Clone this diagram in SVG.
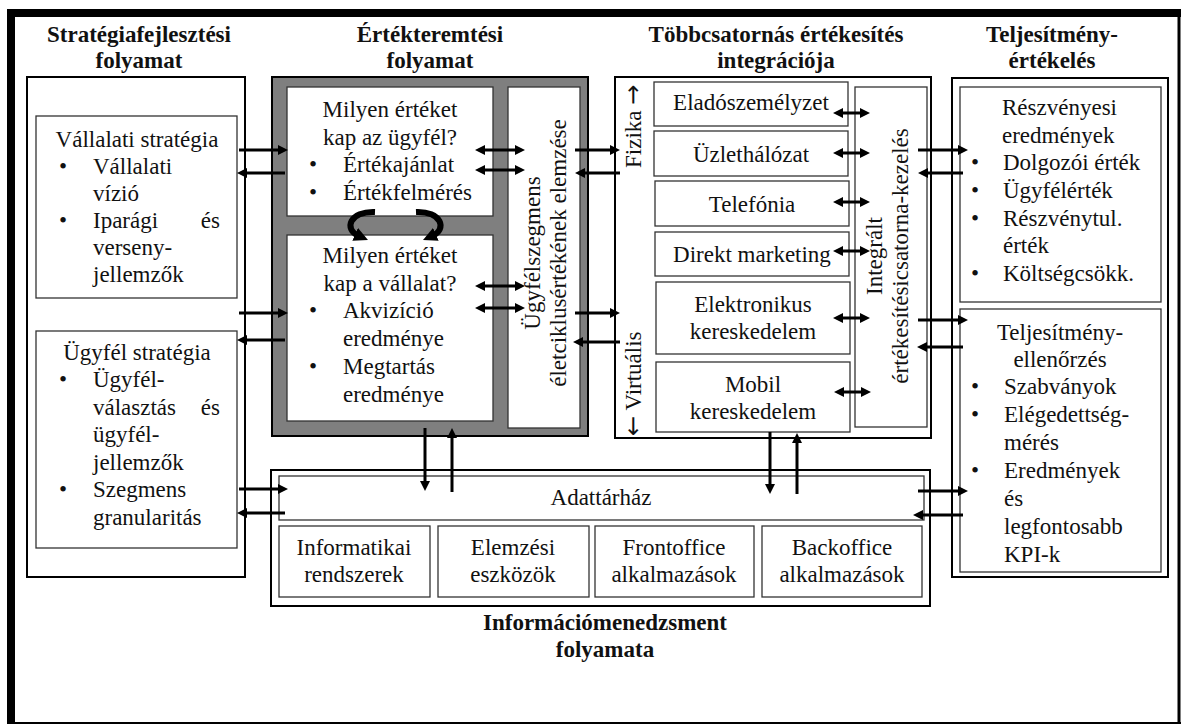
<svg xmlns="http://www.w3.org/2000/svg" width="1181" height="724" viewBox="0 0 1181 724" font-family="'Liberation Serif', serif">
  <defs>
    <style>
      text { font-family: 'Liberation Serif', serif; font-size: 23px; fill: #111; }
      .title { font-weight: bold; text-anchor: middle; }
      .c { text-anchor: middle; }
      .e { text-anchor: end; }
      tspan.glyph { font-family: 'DejaVu Sans', sans-serif; font-size: 24px; }
      .col { fill: #fff; stroke: #000; stroke-width: 2; }
      .box { fill: #fff; stroke: #333; stroke-width: 1.3; }
      .gray { fill: #7f7f7f; stroke: #000; stroke-width: 2; }
      .arr { fill: none; stroke: #000; stroke-width: 3; marker-end: url(#head); }
      .dbl { fill: none; stroke: #000; stroke-width: 3; marker-start: url(#head); marker-end: url(#head); }
      .curl { fill: none; stroke: #000; stroke-width: 6; marker-end: url(#curlhead); }
    </style>
    <marker id="head" viewBox="0 0 10 10" markerWidth="10" markerHeight="10" refX="3" refY="5" orient="auto-start-reverse" markerUnits="userSpaceOnUse">
      <path d="M0,0 L10,5 L0,10 z" fill="#000"/>
    </marker>
    <marker id="curlhead" viewBox="0 0 10 10" markerWidth="14" markerHeight="14" refX="3" refY="5" orient="auto" markerUnits="userSpaceOnUse">
      <path d="M0,0 L10,5 L0,10 z" fill="#000"/>
    </marker>
  </defs>

  <rect width="1181" height="724" fill="#fff"/>

  <!-- page frame: heavy top/left edge, thin right/bottom edge -->
  <g id="frame">
    <rect x="7" y="9" width="1174" height="8" fill="#000"/>
    <rect x="7" y="9" width="8" height="715" fill="#000"/>
    <line x1="1179" y1="9" x2="1179" y2="724" stroke="#000" stroke-width="3"/>
    <line x1="7" y1="723" x2="1181" y2="723" stroke="#000" stroke-width="2"/>
  </g>

  <!-- column 1: strategy development -->
  <g id="strategy">
    <text class="title" x="139" y="42">Stratégiafejlesztési</text>
    <text class="title" x="139" y="68">folyamat</text>
    <rect class="col" x="27" y="77" width="218" height="500"/>
    <g id="corporate-strategy">
      <rect class="box" x="36" y="116" width="201" height="182"/>
      <text class="c" x="137" y="147">Vállalati stratégia</text>
      <text class="c" x="63" y="174">•</text>
      <text x="93" y="174">Vállalati</text>
      <text x="93" y="201">vízió</text>
      <text class="c" x="63" y="228">•</text>
      <text x="93" y="228">Iparági</text>
      <text class="e" x="220" y="228">és</text>
      <text x="93" y="255">verseny-</text>
      <text x="93" y="282">jellemzők</text>
    </g>
    <g id="customer-strategy">
      <rect class="box" x="36" y="331" width="201" height="217"/>
      <text class="c" x="137" y="360">Ügyfél stratégia</text>
      <text class="c" x="63" y="387">•</text>
      <text x="93" y="387">Ügyfél-</text>
      <text x="93" y="415">választás</text>
      <text class="e" x="220" y="415">és</text>
      <text x="93" y="442">ügyfél-</text>
      <text x="93" y="470">jellemzők</text>
      <text class="c" x="63" y="497">•</text>
      <text x="93" y="497">Szegmens</text>
      <text x="93" y="525">granularitás</text>
    </g>
  </g>

  <!-- column 2: value creation -->
  <g id="value-creation">
    <text class="title" x="430" y="42">Értékteremtési</text>
    <text class="title" x="430" y="68">folyamat</text>
    <rect class="gray" x="272" y="77" width="316" height="359"/>
    <g id="customer-value">
      <rect class="box" x="287" y="87" width="206" height="129"/>
      <text class="c" x="390" y="117">Milyen értéket</text>
      <text class="c" x="390" y="145">kap az ügyfél?</text>
      <text class="c" x="313" y="172">•</text>
      <text x="343" y="172">Értékajánlat</text>
      <text class="c" x="313" y="200">•</text>
      <text x="343" y="200">Értékfelmérés</text>
    </g>
    <g id="company-value">
      <rect class="box" x="287" y="235" width="206" height="186"/>
      <text class="c" x="390" y="263">Milyen értéket</text>
      <text class="c" x="390" y="291">kap a vállalat?</text>
      <text class="c" x="313" y="318">•</text>
      <text x="343" y="318">Akvizíció</text>
      <text x="343" y="346">eredménye</text>
      <text class="c" x="313" y="374">•</text>
      <text x="343" y="374">Megtartás</text>
      <text x="343" y="402">eredménye</text>
    </g>
    <g id="segment-analysis">
      <rect class="box" x="508" y="87" width="72" height="341"/>
      <text class="c" transform="translate(540,253) rotate(-90)">Ügyfélszegmens</text>
      <text class="c" transform="translate(566,253) rotate(-90)">életciklusértékének elemzése</text>
    </g>
  </g>

  <!-- column 3: multichannel sales integration -->
  <g id="channels">
    <text class="title" x="776" y="42">Többcsatornás értékesítés</text>
    <text class="title" x="776" y="68">integrációja</text>
    <rect class="col" x="615" y="77" width="316" height="361"/>
    <text transform="translate(641,168) rotate(-90)">Fizika <tspan class="glyph">→</tspan></text>
    <text transform="translate(641,436) rotate(-90)"><tspan class="glyph">←</tspan> Virtuális</text>
    <g id="ch-sales-staff">
      <rect class="box" x="654" y="82" width="194" height="44"/>
      <text class="c" x="751" y="110">Eladószemélyzet</text>
    </g>
    <g id="ch-branches">
      <rect class="box" x="654" y="131" width="194" height="45"/>
      <text class="c" x="751" y="162">Üzlethálózat</text>
    </g>
    <g id="ch-telephony">
      <rect class="box" x="655" y="181" width="194" height="45"/>
      <text class="c" x="752" y="212">Telefónia</text>
    </g>
    <g id="ch-direct-marketing">
      <rect class="box" x="655" y="232" width="194" height="44"/>
      <text class="c" x="752" y="262">Direkt marketing</text>
    </g>
    <g id="ch-ecommerce">
      <rect class="box" x="656" y="282" width="194" height="72"/>
      <text class="c" x="753" y="312">Elektronikus</text>
      <text class="c" x="753" y="339">kereskedelem</text>
    </g>
    <g id="ch-mobile">
      <rect class="box" x="656" y="362" width="194" height="70"/>
      <text class="c" x="753" y="392">Mobil</text>
      <text class="c" x="753" y="419">kereskedelem</text>
    </g>
    <g id="channel-management">
      <rect class="box" x="855" y="87" width="72" height="340"/>
      <text class="c" transform="translate(882,256) rotate(-90)">Integrált</text>
      <text class="c" transform="translate(908,256) rotate(-90)">értékesítésicsatorna-kezelés</text>
    </g>
  </g>

  <!-- column 4: performance evaluation -->
  <g id="performance">
    <text class="title" x="1052" y="42">Teljesítmény-</text>
    <text class="title" x="1052" y="68">értékelés</text>
    <rect class="col" x="952" y="78" width="216" height="499" stroke-width="2.5"/>
    <g id="shareholder-results">
      <rect class="box" x="960" y="87" width="201" height="215"/>
      <text x="1002" y="115">Részvényesi</text>
      <text x="1002" y="143">eredmények</text>
      <text class="c" x="975" y="170">•</text>
      <text x="1003" y="170">Dolgozói érték</text>
      <text class="c" x="975" y="198">•</text>
      <text x="1003" y="198">Ügyfélérték</text>
      <text class="c" x="975" y="226">•</text>
      <text x="1003" y="226">Részvénytul.</text>
      <text x="1003" y="253">érték</text>
      <text class="c" x="975" y="281">•</text>
      <text x="1003" y="281">Költségcsökk.</text>
    </g>
    <g id="performance-control">
      <rect class="box" x="960" y="309" width="201" height="263"/>
      <text class="c" x="1060" y="340">Teljesítmény-</text>
      <text class="c" x="1060" y="367">ellenőrzés</text>
      <text class="c" x="975" y="394">•</text>
      <text x="1004" y="394">Szabványok</text>
      <text class="c" x="975" y="422">•</text>
      <text x="1004" y="422">Elégedettség-</text>
      <text x="1004" y="450">mérés</text>
      <text class="c" x="975" y="478">•</text>
      <text x="1004" y="478">Eredmények</text>
      <text x="1004" y="506">és</text>
      <text x="1004" y="534">legfontosabb</text>
      <text x="1004" y="562">KPI-k</text>
    </g>
  </g>

  <!-- bottom: information management -->
  <g id="information">
    <rect class="col" x="271" y="470" width="659" height="136" stroke-width="2.5"/>
    <g id="data-warehouse">
      <rect class="box" x="279" y="476" width="645" height="44"/>
      <text class="c" x="601" y="505">Adattárház</text>
    </g>
    <g id="it-systems">
      <rect class="box" x="279" y="526" width="151" height="71"/>
      <text class="c" x="354" y="555">Informatikai</text>
      <text class="c" x="354" y="582">rendszerek</text>
    </g>
    <g id="analysis-tools">
      <rect class="box" x="438" y="526" width="151" height="71"/>
      <text class="c" x="513" y="555">Elemzési</text>
      <text class="c" x="513" y="582">eszközök</text>
    </g>
    <g id="frontoffice">
      <rect class="box" x="595" y="526" width="159" height="71"/>
      <text class="c" x="674" y="555">Frontoffice</text>
      <text class="c" x="674" y="582">alkalmazások</text>
    </g>
    <g id="backoffice">
      <rect class="box" x="762" y="526" width="160" height="71"/>
      <text class="c" x="842" y="555">Backoffice</text>
      <text class="c" x="842" y="582">alkalmazások</text>
    </g>
    <text class="title" x="605" y="630">Információmenedzsment</text>
    <text class="title" x="605" y="657">folyamata</text>
  </g>

  <!-- connectors -->
  <g id="connectors">
    <!-- strategy <-> value creation -->
    <path class="arr" d="M239,150 H281"/>
    <path class="arr" d="M285,173 H244"/>
    <path class="arr" d="M239,313 H281"/>
    <path class="arr" d="M285,340 H244"/>
    <!-- strategy <-> information -->
    <path class="arr" d="M239,489 H281"/>
    <path class="arr" d="M285,513 H244"/>
    <!-- value questions <-> segment analysis -->
    <path class="dbl" d="M482,150 H518"/>
    <path class="dbl" d="M482,170 H518"/>
    <path class="dbl" d="M482,286 H518"/>
    <path class="dbl" d="M482,308 H518"/>
    <!-- value creation <-> channels -->
    <path class="arr" d="M575,150 H613"/>
    <path class="arr" d="M620,173 H582"/>
    <path class="arr" d="M575,313 H613"/>
    <path class="arr" d="M620,342 H580"/>
    <!-- channels <-> channel management -->
    <path class="dbl" d="M840,113 H863"/>
    <path class="dbl" d="M840,153 H863"/>
    <path class="dbl" d="M840,202 H863"/>
    <path class="dbl" d="M840,251 H863"/>
    <path class="dbl" d="M840,318 H863"/>
    <path class="dbl" d="M841,392 H864"/>
    <!-- channels <-> performance -->
    <path class="arr" d="M918,150 H961"/>
    <path class="arr" d="M963,173 H925"/>
    <path class="arr" d="M918,320 H961"/>
    <path class="arr" d="M963,347 H924"/>
    <!-- information <-> performance -->
    <path class="arr" d="M918,491 H961"/>
    <path class="arr" d="M963,515 H920"/>
    <!-- value creation <-> data warehouse -->
    <path class="arr" d="M425,428 V484"/>
    <path class="arr" d="M452,492 V435"/>
    <!-- channels <-> data warehouse -->
    <path class="arr" d="M770,432 V487"/>
    <path class="arr" d="M797,494 V440"/>
    <!-- cycle between the two value questions -->
    <path class="curl" d="M375,212 C350,211 343,229 359,236"/>
    <path class="curl" d="M416,212 C441,211 448,229 432,236"/>
  </g>
</svg>
